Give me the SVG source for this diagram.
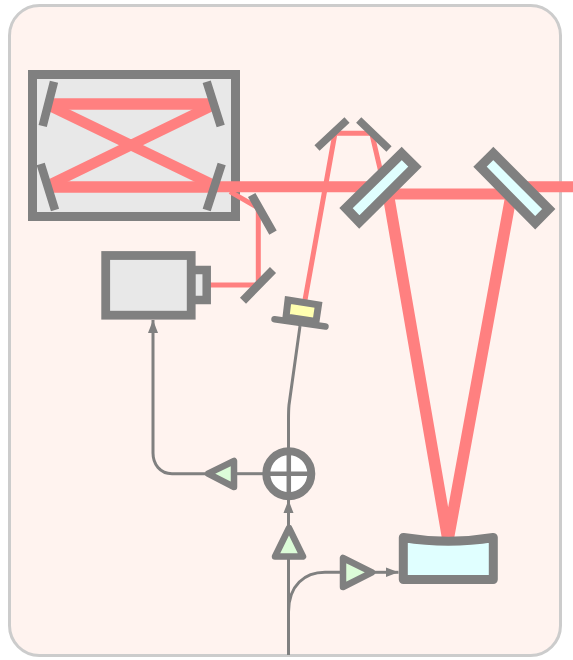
<svg xmlns="http://www.w3.org/2000/svg" width="573" height="660" viewBox="0 0 573 660">
<style>
.beam{fill:none;stroke:#ff8080;stroke-linecap:butt;stroke-linejoin:miter}
.wire{fill:none;stroke:#808080;stroke-width:3}
.m{fill:none;stroke:#808080;stroke-width:8.500}
.b{stroke:#808080;stroke-width:9.500;stroke-linejoin:miter}
.amp{fill:#dcfcd8;stroke:#808080;stroke-width:6.500;stroke-linejoin:round}
</style>
<defs>
<marker id="ah" markerUnits="userSpaceOnUse" markerWidth="14" markerHeight="11" refX="13" refY="5.500" orient="auto"><path d="M0 .5L13 5.500L0 10.500z" fill="#808080"/></marker>
</defs>
<rect id="panel" x="9.500" y="5.500" width="551" height="650" rx="30" fill="#fff3ef" stroke="#cccccc" stroke-width="3"/>
<g id="cavity-box"><rect x="32.500" y="74.500" width="203" height="142" fill="#e8e8e8" stroke="#808080" stroke-width="9"/></g>
<g id="connectors">
<path class="beam" stroke-width="11.500" d="M50 104H211M50 187H211"/>
<path class="beam" stroke-width="10.500" d="M48 105L213 184.800M48 185.500L213 105.200"/>
<path class="beam" stroke-width="11" d="M211 186.700H370M525 186.700H573M385 194H520"/>
<path class="beam" stroke-width="11.500" d="M388.500 196L448 540L511 196"/>
<path class="beam" stroke-width="5" d="M230 191.700L258.300 208V285H206"/>
<path class="beam" stroke-width="5" d="M305 300L335 133.300H371.700L386 194"/>
<path class="wire" d="M300 326L289 405Q288.500 410 288.500 420V449"/>
<path class="wire" marker-end="url(#ah)" d="M205 473.700H172C160 473.700 153 464 153 453V320"/>
<path class="wire" d="M236 473.700H266"/>
<path class="wire" marker-end="url(#ah)" d="M288.500 527V500"/>
<path class="wire" d="M288.500 559V655"/>
<path class="wire" d="M288.500 612C288.500 585 305 572.300 325 572.300H341"/>
<path class="wire" marker-end="url(#ah)" d="M374 572.300H398.500"/>
</g>
<g id="cavity-mirrors">
<path class="m" d="M54 81.700L42.700 126M40.700 164L55 210M206.700 81.700L220.700 126M221.700 164L206.700 210"/>
</g>
<g id="steering-mirrors">
<path class="m" d="M251.700 195L273 232.700M273 270L243 300.700"/>
<path class="m" style="stroke-width:7.500" d="M317 148L347 120M358.700 120L389 149"/>
</g>
<g id="camera">
<rect x="191" y="270" width="15.700" height="30" fill="#e8e8e8" stroke="#808080" stroke-width="8.500"/>
<rect x="105.700" y="255.500" width="85.500" height="59.700" fill="#e8e8e8" stroke="#808080" stroke-width="8.800"/>
</g>
<g id="piezo">
<path d="M288 300L318.500 304.800L316 321.500L286 317z" fill="#ffffb0" stroke="#808080" stroke-width="7"/>
<path d="M274.500 319.300L325.500 326.500" fill="none" stroke="#808080" stroke-width="6.500" stroke-linecap="round"/>
</g>
<g id="splitter-1"><path class="b" fill="#e0ffff" d="M401.700 153.500L415 166.700L359.300 222L346 208z"/></g>
<g id="splitter-2"><path class="b" fill="#e0ffff" d="M493.300 153.500L480 166.700L535.200 222.800L548.700 209z"/></g>
<g id="curved-mirror"><path d="M403.300 537.500Q448.300 545 493.300 537.500V579.500H403.300z" fill="#e0ffff" stroke="#808080" stroke-width="9" stroke-linejoin="round"/></g>
<g id="summer">
<circle cx="288.800" cy="473.700" r="22.500" fill="#ffffff" stroke="#808080" stroke-width="8"/>
<path d="M266 473.700H312M288.800 451V496.500" stroke="#808080" stroke-width="4.500" fill="none"/>
</g>
<g id="amp-left"><path class="amp" d="M234 461V487L208 473.700z"/></g>
<g id="amp-up"><path class="amp" d="M289 528L303 556.500H275z"/></g>
<g id="amp-right"><path class="amp" d="M343 558V587L372 572.300z"/></g>
</svg>
